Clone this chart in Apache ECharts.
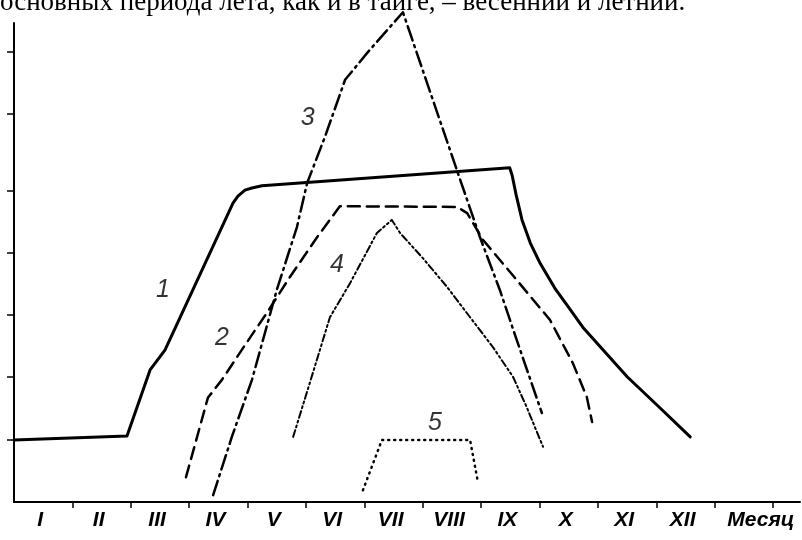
<!DOCTYPE html>
<html>
<head>
<meta charset="UTF-8">
<script src="https://cdn.jsdelivr.net/npm/echarts@6/dist/echarts.min.js"></script>
<style>
html, body { margin: 0; padding: 0; background: #fff; }
#container { width: 802px; height: 540px; }
</style>
</head>
<body>
<div id="container"></div>
<script>
// x: months from the start of January, y: relative units (one y tick = 1)
var curve1 = [[0, 1.0], [1.935, 1.065], [2.33, 2.13], [2.585, 2.45], [3.75, 4.82], [3.835, 4.935],
    [3.955, 5.03], [4.075, 5.065], [4.245, 5.10], [8.49, 5.39], [8.53, 5.27], [8.60, 4.95],
    [8.70, 4.55], [8.84, 4.18], [9.01, 3.85], [9.26, 3.45], [9.52, 3.11], [9.74, 2.82],
    [10.12, 2.42], [10.50, 2.02], [11.06, 1.52], [11.58, 1.05]];
var curve2 = [[2.945, 0.40], [3.32, 1.68], [3.56, 1.97], [3.955, 2.53], [4.33, 3.05], [4.725, 3.63],
    [5.19, 4.27], [5.58, 4.77], [7.585, 4.76], [7.76, 4.66], [8.03, 4.23], [8.61, 3.58],
    [9.18, 2.935], [9.57, 2.24], [9.81, 1.69], [9.90, 1.29]];
var curve3 = [[3.41, 0.11], [3.73, 1.05], [4.075, 1.97], [4.50, 3.42], [4.845, 4.435], [5.02, 5.145],
    [5.325, 5.89], [5.67, 6.81], [6.045, 7.24], [6.66, 7.90], [7.175, 6.48], [7.60, 5.31],
    [7.98, 4.27], [8.32, 3.42], [8.61, 2.61], [9.04, 1.435]];
var curve4 = [[4.78, 1.05], [5.07, 1.935], [5.41, 2.98], [5.755, 3.53], [6.215, 4.34], [6.47, 4.55],
    [6.61, 4.34], [7.00, 3.935], [7.415, 3.47], [7.81, 2.98], [8.20, 2.50], [8.545, 2.02],
    [8.78, 1.53], [9.06, 0.89]];
var curve5 = [[5.975, 0.19], [6.30, 1.0], [7.81, 1.0], [7.945, 0.32]];

var curveNames = ['1', '2', '3', '4', '5'];
var curveNamePos = [[2.55, 3.42], [3.56, 2.645], [5.03, 6.19], [5.53, 3.82], [7.21, 1.27]];

var monthLabels = ['I', 'II', 'III', 'IV', 'V', 'VI', 'VII', 'VIII', 'IX', 'X', 'XI', 'XII', 'Месяц'];
var monthLabelPos = [0.45, 1.45, 2.45, 3.45, 4.45, 5.45, 6.45, 7.45, 8.45, 9.45, 10.45, 11.45, 12.79];
var monthTicks = [1, 2, 3, 4, 5, 6, 7, 8, 9, 10, 11, 12, 13];
var yTicks = [1.0, 2.02, 3.02, 4.02, 5.02, 6.27, 7.27];

var caption = 'основных периода лета, как и в тайге, – весенний и летний.';

var ink = '#000';
var myChart = echarts.init(document.getElementById('container'));

var nameData = curveNamePos.map(function (p, i) { return [p[0], p[1], curveNames[i]]; });

function lineSeries(data, width, dash) {
    return {
        type: 'line',
        data: data,
        symbol: 'none',
        clip: false,
        animation: false,
        lineStyle: { color: ink, width: width, type: dash, cap: 'round', join: 'round' }
    };
}

var option = {
    backgroundColor: '#fff',
    animation: false,
    grid: { left: 14, right: 2, top: 23, bottom: 38 },
    graphic: [{
        type: 'text',
        x: 0,
        y: 3,
        style: { text: caption, font: '27px "Liberation Serif"', fill: ink, verticalAlign: 'middle' }
    }],
    xAxis: {
        type: 'value',
        min: 0,
        max: 13.46,
        splitLine: { show: false },
        axisLine: { lineStyle: { color: ink, width: 2 } },
        axisTick: { customValues: monthTicks, length: 6, lineStyle: { color: ink, width: 1.5 } },
        axisLabel: {
            customValues: monthLabelPos,
            margin: 8,
            color: ink,
            fontSize: 21,
            fontStyle: 'italic',
            fontWeight: 'bold',
            fontFamily: 'Liberation Sans',
            formatter: function (v) {
                var i = monthLabelPos.indexOf(v);
                return i >= 0 ? monthLabels[i] : '';
            }
        }
    },
    yAxis: {
        type: 'value',
        min: 0,
        max: 7.726,
        splitLine: { show: false },
        axisLine: { lineStyle: { color: ink, width: 2 } },
        axisTick: { customValues: yTicks, length: 7, lineStyle: { color: ink, width: 1.5 } },
        axisLabel: { show: false }
    },
    series: [
        lineSeries(curve1, 3, 'solid'),
        lineSeries(curve2, 2.5, [12, 7]),
        lineSeries(curve3, 2.5, [15, 5, 2, 5]),
        lineSeries(curve4, 2, [7, 3, 2, 3, 2, 3]),
        lineSeries(curve5, 2.5, [1, 5]),
        {
            type: 'scatter',
            data: nameData,
            symbolSize: 0,
            animation: false,
            label: {
                show: true,
                position: 'inside',
                color: ink,
                fontSize: 25,
                fontStyle: 'italic',
                fontFamily: 'Liberation Sans',
                formatter: function (p) { return p.value[2]; }
            }
        }
    ]
};
myChart.setOption(option);
</script>
</body>
</html>
